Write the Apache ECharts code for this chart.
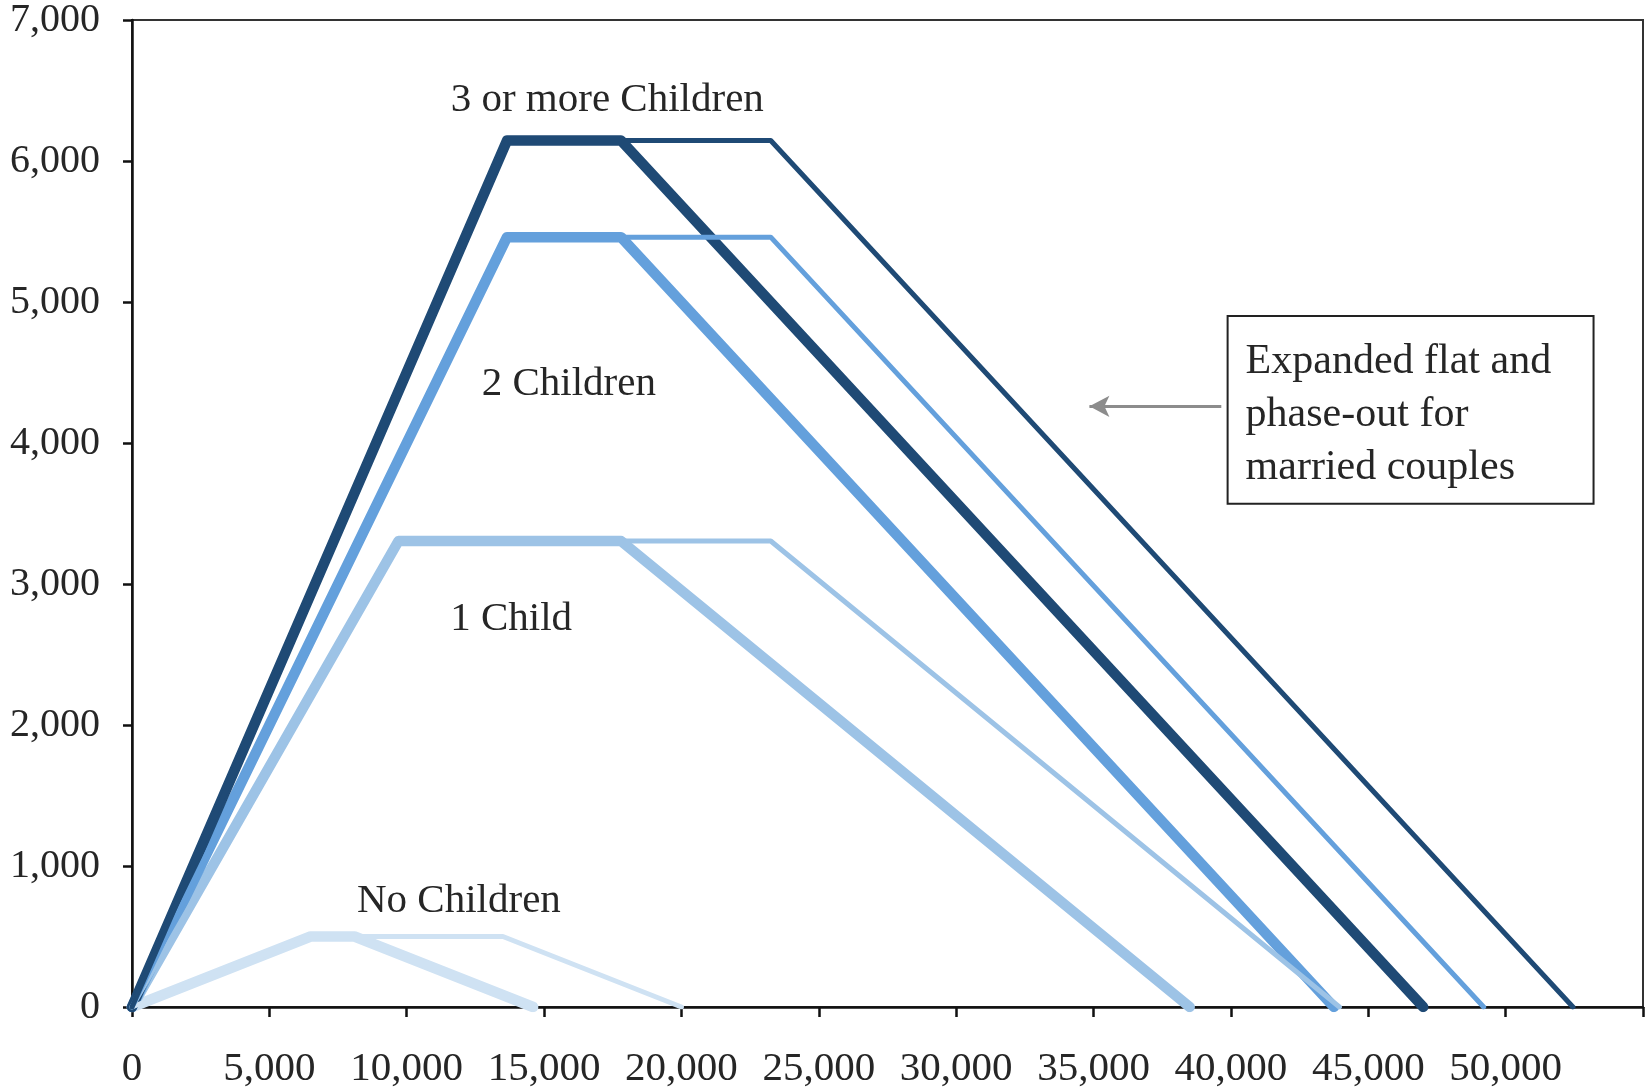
<!DOCTYPE html>
<html>
<head>
<meta charset="utf-8">
<script src="https://cdn.jsdelivr.net/npm/echarts@6/dist/echarts.min.js"></script>
<style>
  html, body { margin: 0; padding: 0; background: #fff; }
  #chart { width: 1649px; height: 1090px; }
</style>
</head>
<body>
<div id="chart"></div>
<script>
// credit amount vs. earnings: [earnings, credit]
var noChildSingle    = [[0, 0], [6500, 500], [8100, 500], [14600, 0]];
var noChildMarried   = [[0, 0], [6500, 500], [13500, 500], [20000, 0]];
var oneChildSingle   = [[0, 0], [9700, 3305], [17800, 3305], [38500, 0]];
var oneChildMarried  = [[0, 0], [9700, 3305], [23250, 3305], [43950, 0]];
var twoChildSingle   = [[0, 0], [13650, 5460], [17800, 5460], [43750, 0]];
var twoChildMarried  = [[0, 0], [13650, 5460], [23250, 5460], [49200, 0]];
var threeChildSingle = [[0, 0], [13650, 6145], [17800, 6145], [47000, 0]];
var threeChildMarried= [[0, 0], [13650, 6145], [23250, 6145], [52450, 0]];

var groupLabels = ['No Children', '1 Child', '2 Children', '3 or more Children'];
var boxLines = ['Expanded flat and', 'phase-out for', 'married couples'];

var xTicks = [0, 5000, 10000, 15000, 20000, 25000, 30000, 35000, 40000, 45000, 50000, 55000];
var yTicks = [0, 1000, 2000, 3000, 4000, 5000, 6000, 7000];

(function () {
  var chart = echarts.init(document.getElementById('chart'));
  var FONT = '"Liberation Serif", "Times New Roman", serif';
  var colors = ['#cfe2f3', '#9dc3e6', '#64a0dc', '#1f4a75'];

  var groups = [
    [noChildSingle, noChildMarried],
    [oneChildSingle, oneChildMarried],
    [twoChildSingle, twoChildMarried],
    [threeChildSingle, threeChildMarried]
  ];

  var series = [];
  groups.forEach(function (g, i) {
    series.push({
      type: 'line', name: groupLabels[i] + ' single', data: g[0],
      showSymbol: false, symbol: 'none', z: 2,
      lineStyle: { color: colors[i], width: 10.5, join: 'round', cap: 'round' }
    });
    series.push({
      type: 'line', name: groupLabels[i] + ' married', data: g[1],
      showSymbol: false, symbol: 'none', z: 3,
      lineStyle: { color: colors[i], width: 5, join: 'round', cap: 'round' }
    });
  });

  // arrow pointing from the note box to the married lines
  series.push({
    type: 'line', data: [], silent: true,
    markLine: {
      silent: true, animation: false,
      symbol: ['none', 'arrow'], symbolSize: [16, 20],
      lineStyle: { color: '#8c8c8c', width: 3, type: 'solid' },
      label: { show: false },
      data: [[{ coord: [39650, 4260] }, { coord: [34850, 4260] }]]
    }
  });

  var option = {
    animation: false,
    backgroundColor: '#fff',
    grid: {
      left: 132, right: 6, top: 18, bottom: 83,
      show: true, borderColor: '#333', borderWidth: 2, backgroundColor: 'transparent'
    },
    xAxis: {
      type: 'value', min: xTicks[0], max: xTicks[xTicks.length - 1], interval: 5000,
      axisLine: { show: true, onZero: false, lineStyle: { color: '#111', width: 2.5 } },
      axisTick: { show: true, length: 10, lineStyle: { color: '#111', width: 2.5 } },
      splitLine: { show: false },
      axisLabel: {
        margin: 42, color: '#262626', fontFamily: FONT, fontSize: 41,
        formatter: function (v) { return v === 55000 ? '' : echarts.format.addCommas(v); }
      }
    },
    yAxis: {
      type: 'value', min: yTicks[0], max: yTicks[yTicks.length - 1], interval: 1000,
      axisLine: { show: true, lineStyle: { color: '#111', width: 2.5 } },
      axisTick: { show: true, length: 9, lineStyle: { color: '#111', width: 2.5 } },
      splitLine: { show: false },
      axisLabel: {
        margin: 32, color: '#262626', fontFamily: FONT, fontSize: 40,
        formatter: function (v) { return echarts.format.addCommas(v); }
      }
    },
    series: series
  };
  chart.setOption(option);

  // text labels and the note box, anchored in data coordinates
  var labelAnchors = [[11900, 750], [13800, 2750], [15900, 4420], [17300, 6430]];
  var graphics = [];
  groupLabels.forEach(function (t, i) {
    var p = chart.convertToPixel({ gridIndex: 0 }, labelAnchors[i]);
    graphics.push({
      type: 'text', x: p[0], y: p[1], z: 10,
      style: { text: t, font: '41px ' + FONT, fill: '#262626', align: 'center', verticalAlign: 'middle' }
    });
  });
  var tl = chart.convertToPixel({ gridIndex: 0 }, [39880, 4900]);
  var br = chart.convertToPixel({ gridIndex: 0 }, [53200, 3570]);
  graphics.push({
    type: 'rect', z: 10,
    shape: { x: tl[0], y: tl[1], width: br[0] - tl[0], height: br[1] - tl[1] },
    style: { fill: '#fff', stroke: '#222', lineWidth: 2 }
  });
  boxLines.forEach(function (t, i) {
    graphics.push({
      type: 'text', z: 11, x: tl[0] + 18, y: tl[1] + 46 + i * 53,
      style: { text: t, font: '42px ' + FONT, fill: '#262626', align: 'left', verticalAlign: 'middle' }
    });
  });
  chart.setOption({ graphic: graphics });
})();
</script>
</body>
</html>
